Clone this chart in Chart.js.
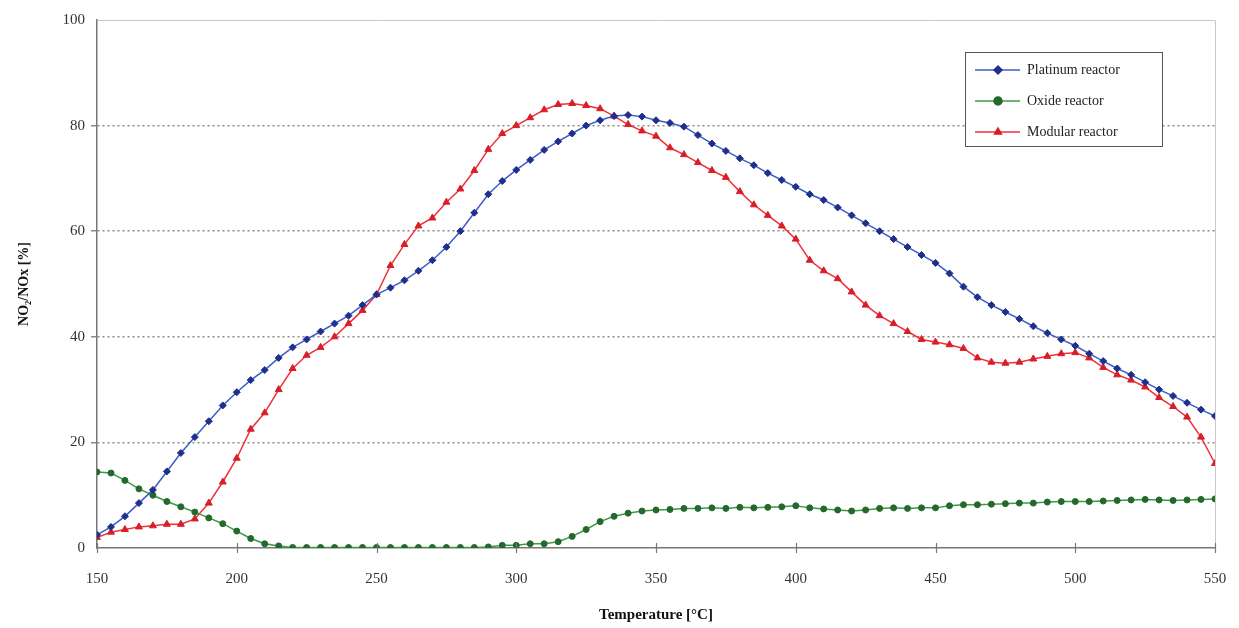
<!DOCTYPE html>
<html>
<head>
<meta charset="utf-8">
<script src="https://cdn.jsdelivr.net/npm/chart.js@4/dist/chart.umd.min.js"></script>
<style>
  html, body { margin: 0; padding: 0; background: #fff; }
  #wrap { width: 1239px; height: 628px; }
</style>
</head>
<body>
<div id="wrap"><canvas id="grafico" width="1239" height="628"></canvas></div>
<script>
// temperaturas (°C), um ponto a cada 5 °C
const temperaturas = [];
for (let t = 150; t <= 550; t += 5) temperaturas.push(t);

const platina = [
  2.5, 4, 6, 8.5, 11, 14.5, 18, 21, 24, 27,
  29.5, 31.8, 33.7, 36, 38, 39.5, 41, 42.5, 44, 46,
  48, 49.3, 50.7, 52.5, 54.5, 57, 60, 63.5, 67, 69.5,
  71.6, 73.5, 75.4, 77, 78.5, 80, 81, 81.8, 82, 81.7,
  81, 80.5, 79.8, 78.2, 76.6, 75.2, 73.8, 72.5, 71, 69.7,
  68.4, 67, 65.9, 64.5, 63, 61.5, 60, 58.5, 57, 55.5,
  54, 52, 49.5, 47.5, 46, 44.7, 43.4, 42, 40.7, 39.5,
  38.3, 36.8, 35.4, 34, 32.8, 31.4, 30, 28.8, 27.5, 26.2, 25
];

const oxido = [
  14.4, 14.2, 12.8, 11.2, 10, 8.8, 7.8, 6.8, 5.7, 4.6,
  3.2, 1.8, 0.8, 0.4, 0.1, 0.1, 0.1, 0.1, 0.1, 0.1,
  0.1, 0.1, 0.1, 0.1, 0.1, 0.1, 0.1, 0.1, 0.2, 0.5,
  0.5, 0.8, 0.8, 1.2, 2.2, 3.5, 5, 6, 6.6, 7,
  7.2, 7.3, 7.5, 7.5, 7.6, 7.5, 7.7, 7.6, 7.7, 7.8,
  8, 7.6, 7.4, 7.2, 7, 7.2, 7.5, 7.6, 7.5, 7.6,
  7.6, 8, 8.2, 8.2, 8.3, 8.4, 8.5, 8.5, 8.7, 8.8,
  8.8, 8.8, 8.9, 9, 9.1, 9.2, 9.1, 9, 9.1, 9.2, 9.3
];

const modular = [
  2, 3, 3.5, 4, 4.2, 4.5, 4.5, 5.5, 8.5, 12.5,
  17, 22.5, 25.6, 30, 34, 36.5, 38, 40, 42.5, 45,
  48, 53.5, 57.5, 61, 62.5, 65.5, 68, 71.5, 75.5, 78.5,
  80, 81.5, 83, 84, 84.2, 83.8, 83.2, 81.8, 80.2, 79,
  78, 75.8, 74.5, 73, 71.5, 70.2, 67.5, 65, 63, 61,
  58.5, 54.5, 52.5, 51, 48.5, 46, 44, 42.5, 41, 39.5,
  39, 38.5, 37.8, 36, 35.2, 35, 35.2, 35.8, 36.3, 36.8,
  37, 36, 34.2, 32.8, 31.8, 30.5, 28.5, 26.8, 24.8, 21, 16
];

const nomesSeries = ['Platinum reactor', 'Oxide reactor', 'Modular reactor'];
const ticksY = [0, 20, 40, 60, 80, 100];
const ticksX = [150, 200, 250, 300, 350, 400, 450, 500, 550];

const serif = '"Liberation Serif", "DejaVu Serif", serif';

function pontos(valores) {
  return valores.map((v, i) => ({ x: temperaturas[i], y: v }));
}

// borda clara em cima e à direita, marcas do eixo x e legenda dentro do gráfico
const extras = {
  id: 'extras',
  afterDatasetsDraw(chart) {
    const { ctx, chartArea: a } = chart;
    ctx.save();
    ctx.strokeStyle = '#c8c8c8';
    ctx.lineWidth = 1;
    ctx.beginPath();
    ctx.moveTo(a.left, a.top + 0.5);
    ctx.lineTo(a.right + 0.5, a.top + 0.5);
    ctx.lineTo(a.right + 0.5, a.bottom);
    ctx.stroke();

    // marquinhas do eixo x atravessando a linha
    const sx = chart.scales.x;
    ctx.strokeStyle = '#777';
    ctx.lineWidth = 1.2;
    ticksX.forEach(v => {
      const x = Math.round(sx.getPixelForValue(v)) + 0.5;
      ctx.beginPath();
      ctx.moveTo(x, a.bottom - 5);
      ctx.lineTo(x, a.bottom + 5);
      ctx.stroke();
    });

    // legenda
    const bx = 965, by = 52, bw = 197, bh = 94;
    ctx.fillStyle = '#fff';
    ctx.fillRect(bx, by, bw, bh);
    ctx.strokeStyle = '#555';
    ctx.lineWidth = 1;
    ctx.strokeRect(bx + 0.5, by + 0.5, bw, bh);
    ctx.font = '14px ' + serif;
    ctx.textBaseline = 'middle';
    chart.data.datasets.forEach((ds, i) => {
      const y = by + 18 + i * 31;
      ctx.strokeStyle = ds.borderColor;
      ctx.lineWidth = 1.5;
      ctx.beginPath();
      ctx.moveTo(bx + 10, y);
      ctx.lineTo(bx + 55, y);
      ctx.stroke();
      ctx.fillStyle = ds.pointBackgroundColor;
      ctx.strokeStyle = ds.pointBorderColor;
      Chart.helpers.drawPoint(ctx, {
        pointStyle: ds.pointStyle, radius: 4, rotation: 0, borderWidth: 1
      }, bx + 33, y);
      ctx.fillStyle = '#222';
      ctx.fillText(nomesSeries[i], bx + 62, y);
    });
    ctx.restore();
  }
};

new Chart(document.getElementById('grafico'), {
  type: 'line',
  data: {
    datasets: [
      {
        label: nomesSeries[0], data: pontos(platina),
        borderColor: '#3c5cc8', borderWidth: 1.5,
        pointStyle: 'rectRot', pointRadius: 3.5, pointBackgroundColor: '#1e2f8c', pointBorderColor: '#1e2f8c', pointBorderWidth: 1
      },
      {
        label: nomesSeries[1], data: pontos(oxido),
        borderColor: '#3c9a44', borderWidth: 1.5,
        pointStyle: 'circle', pointRadius: 3, pointBackgroundColor: '#24682c', pointBorderColor: '#24682c', pointBorderWidth: 1
      },
      {
        label: nomesSeries[2], data: pontos(modular),
        borderColor: '#ef3038', borderWidth: 1.5,
        pointStyle: 'triangle', pointRadius: 4, pointBackgroundColor: '#d81e28', pointBorderColor: '#d81e28', pointBorderWidth: 1
      }
    ]
  },
  options: {
    responsive: false,
    animation: false,
    layout: { padding: { left: 0, right: 24, top: 20, bottom: 0 } },
    plugins: { legend: { display: false }, tooltip: { enabled: false } },
    scales: {
      x: {
        type: 'linear', min: 150, max: 550,
        afterBuildTicks: s => { s.ticks = ticksX.map(v => ({ value: v })); },
        afterFit: s => { s.height = 80; s.paddingLeft = 0; s.paddingRight = 0; },
        grid: { drawOnChartArea: false, drawTicks: false },
        border: { color: '#777', width: 1.5 },
        ticks: { color: '#333', font: { family: serif, size: 15 }, padding: 22 },
        title: {
          display: true, text: 'Temperature [°C]', color: '#111',
          font: { family: serif, size: 15, weight: 'bold' }, padding: { top: 2 }
        }
      },
      y: {
        min: 0, max: 100,
        afterBuildTicks: s => { s.ticks = ticksY.map(v => ({ value: v })); },
        afterFit: s => { s.width = 97; },
        grid: {
          color: c => (c.tick && (c.tick.value === 0 || c.tick.value === 100)) ? 'rgba(0,0,0,0)' : '#8a8a8a',
          lineWidth: 1.5, drawTicks: true, tickLength: 6
        },
        border: { color: '#777', width: 1.5, dash: [2, 3] },
        ticks: { color: '#333', font: { family: serif, size: 15 }, padding: 6 },
        title: {
          display: true, text: 'NO₂/NOx [%]', color: '#111',
          font: { family: serif, size: 14, weight: 'bold' }, padding: { top: 16, bottom: 0 }
        }
      }
    }
  },
  plugins: [extras]
});
</script>
</body>
</html>
